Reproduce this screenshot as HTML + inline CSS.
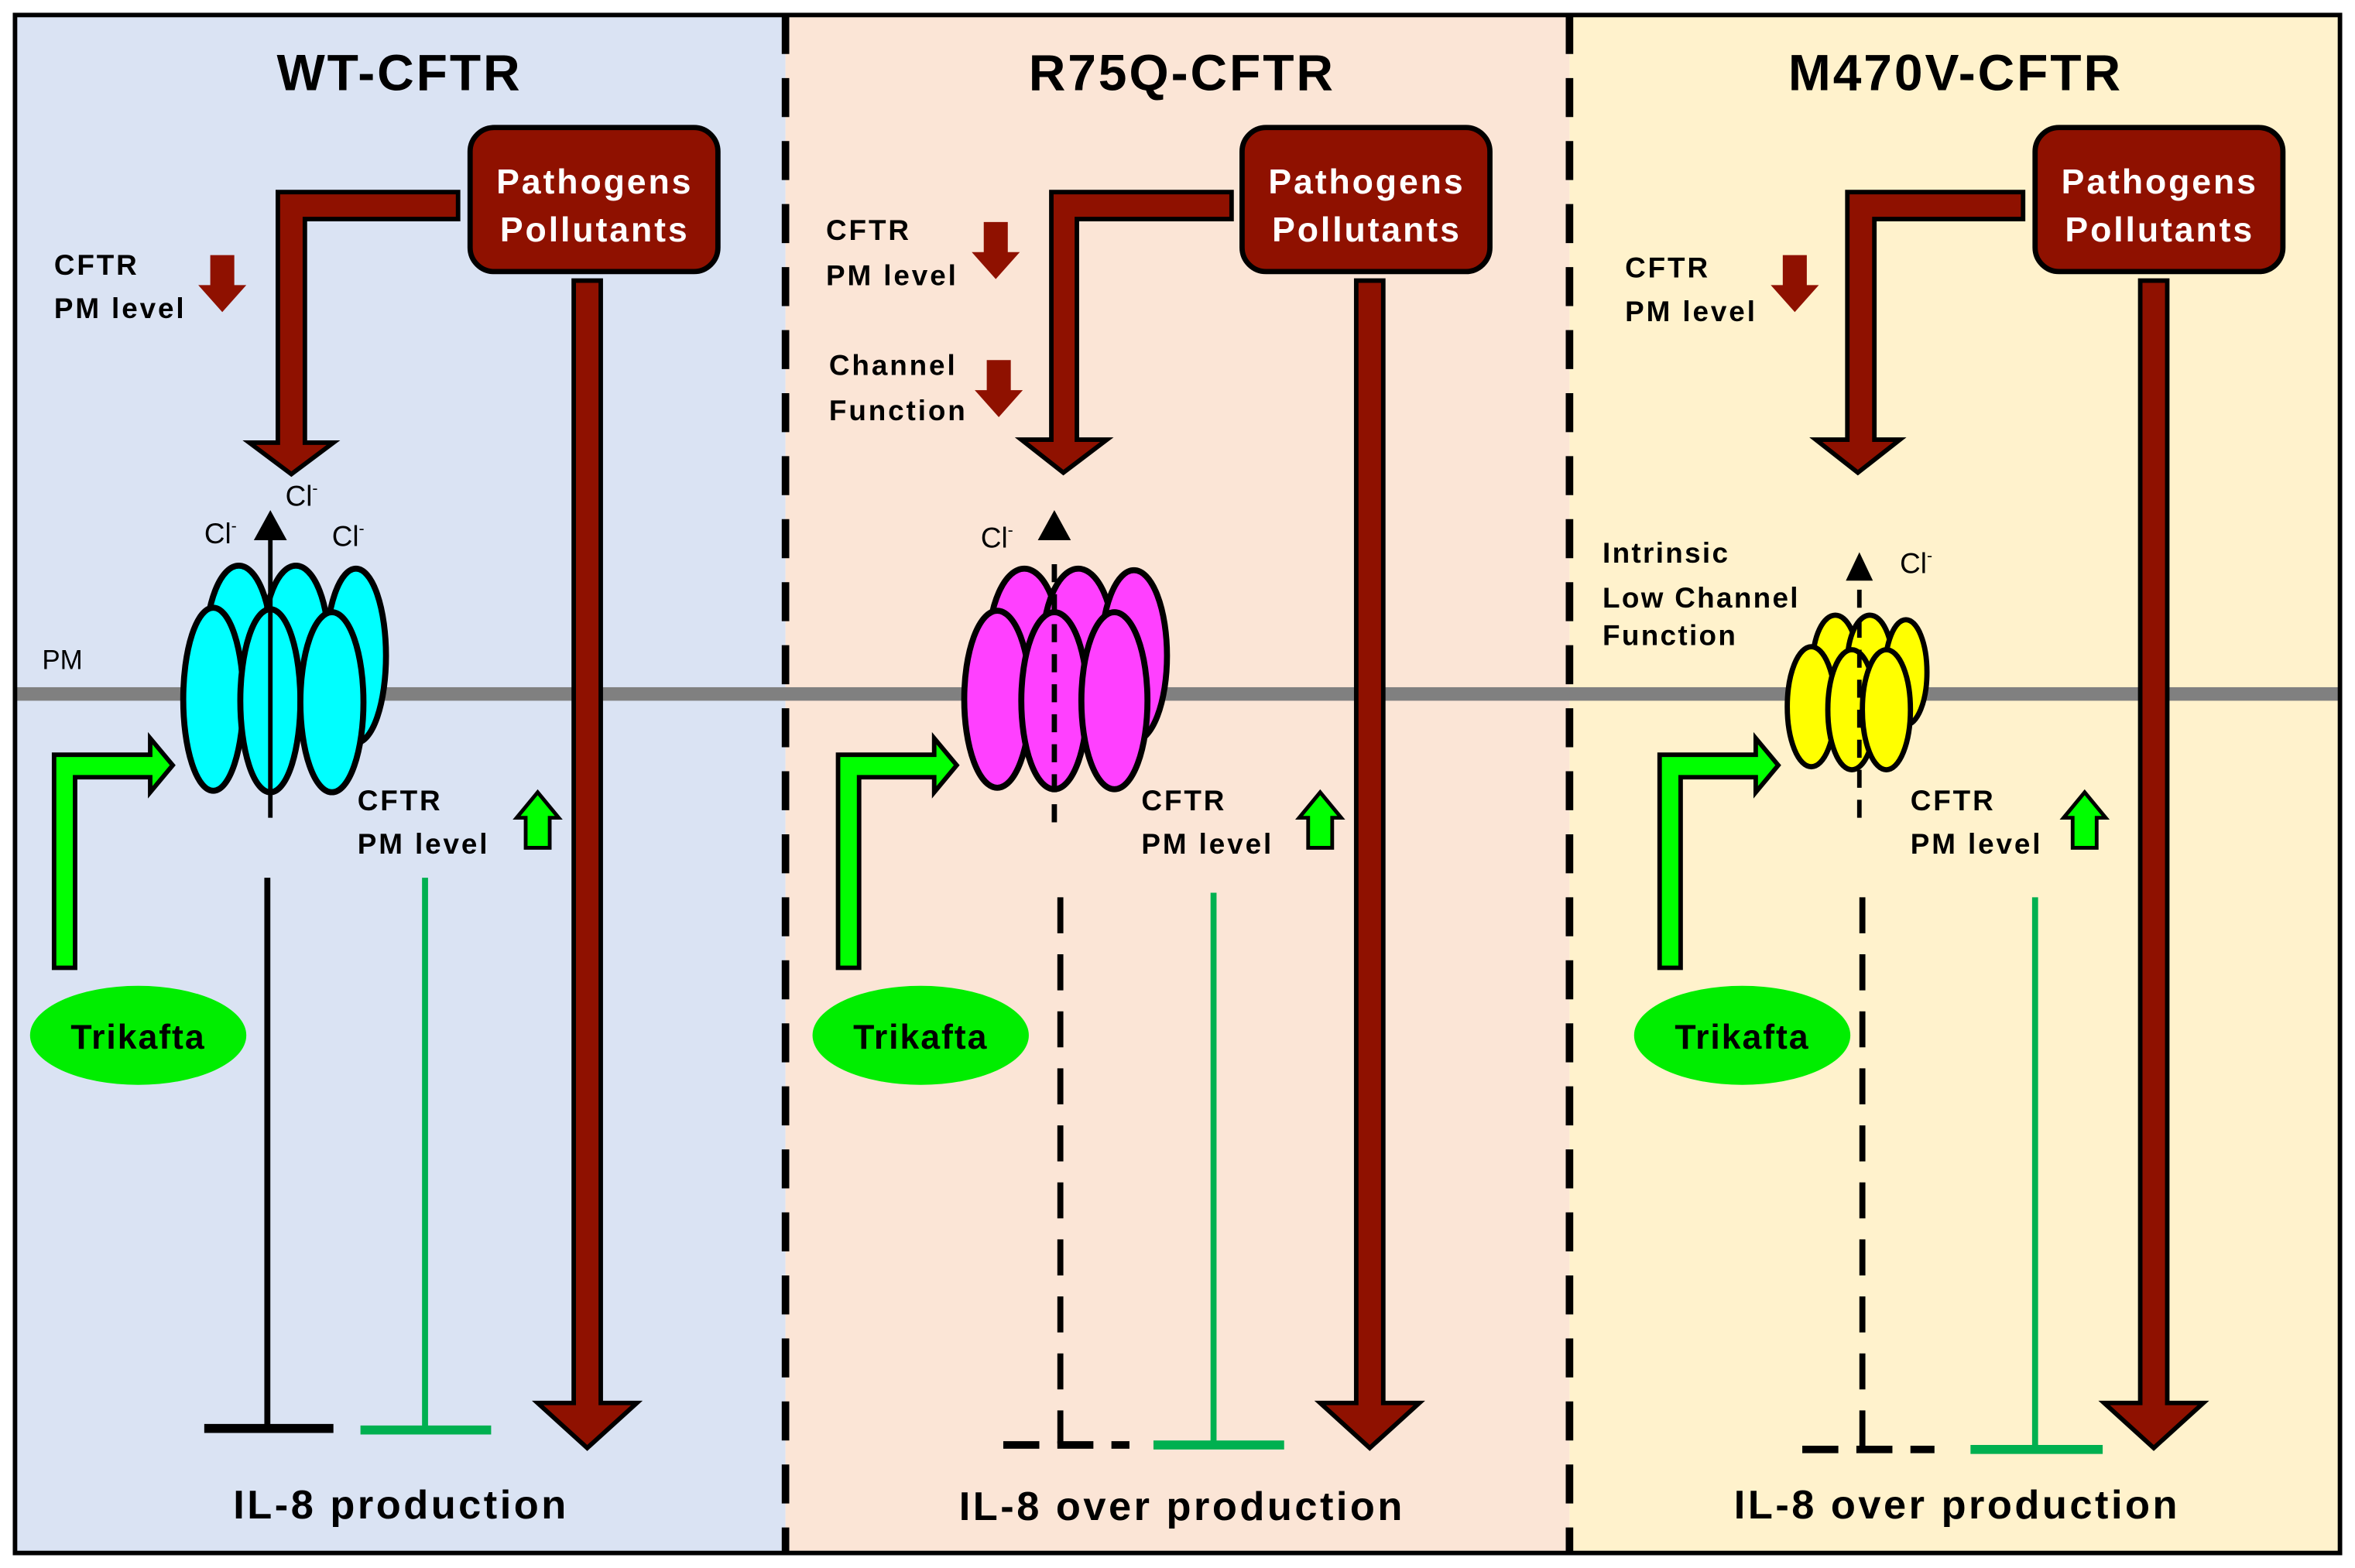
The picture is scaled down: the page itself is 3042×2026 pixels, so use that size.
<!DOCTYPE html>
<html><head><meta charset="utf-8"><style>
html,body{margin:0;padding:0;background:#fff;}
svg{display:block;}
text{font-family:"Liberation Sans",Arial,sans-serif;font-weight:bold;}
</style></head><body>
<svg width="3042" height="2026" viewBox="0 0 1568 1045" preserveAspectRatio="none" xmlns="http://www.w3.org/2000/svg">
<defs>
<g id="box">
<rect x="0" y="0" width="165" height="96" rx="16" fill="#8f1100" stroke="#000" stroke-width="3.5"/>
<text x="83" y="44" fill="#fff" font-size="23" text-anchor="middle" letter-spacing="1.5">Pathogens</text>
<text x="83" y="76" fill="#fff" font-size="23" text-anchor="middle" letter-spacing="1.5">Pollutants</text>
</g>
<polygon id="longarrow" points="-9,0 9,0 9,748 33,748 0,778 -33,748 -9,748" fill="#8f1100" stroke="#000" stroke-width="3"/>
<polygon id="smalldown" points="-8,0 8,0 8,20 16,20 0,38 -16,20 -8,20" fill="#8f1100"/>
<polygon id="greenup" points="-8,37 8,37 8,17 14,17 0,0 -14,17 -8,17" fill="#00ff00" stroke="#000" stroke-width="2.5"/>
<polygon id="greenbent" points="0,142 0,0 64,0 64,-11 79,7 64,25 64,15 14,15 14,142" fill="#00ff00" stroke="#000" stroke-width="3"/>
</defs>

<rect x="10" y="10" width="513" height="1025" fill="#dae3f3"/>
<rect x="523" y="10" width="522" height="1025" fill="#fbe5d6"/>
<rect x="1045" y="10" width="513" height="1025" fill="#fff2cc"/>

<rect x="10" y="458" width="1548" height="9" fill="#808080"/>

<rect x="10" y="10" width="1548" height="1025" fill="none" stroke="#000" stroke-width="3"/>
<line x1="523" y1="10" x2="523" y2="1035" stroke="#000" stroke-width="5" stroke-dasharray="26,16"/>
<line x1="1045" y1="10" x2="1045" y2="1035" stroke="#000" stroke-width="5" stroke-dasharray="26,16"/>

<text x="266" y="60" font-size="34" text-anchor="middle" letter-spacing="1.5">WT-CFTR</text>
<text x="787" y="60" font-size="34" text-anchor="middle" letter-spacing="1.5">R75Q-CFTR</text>
<text x="1302" y="60" font-size="34" text-anchor="middle" letter-spacing="1.5">M470V-CFTR</text>

<!-- Panel 1 -->
<use href="#box" x="313" y="85"/>
<polygon points="305,128 185,128 185,295 166,295 194,316 222,295 203,295 203,146 305,146" fill="#8f1100" stroke="#000" stroke-width="3"/>
<use href="#longarrow" x="391" y="187"/>
<text x="36" y="183" font-size="19" letter-spacing="1.5">CFTR</text>
<text x="36" y="212" font-size="19" letter-spacing="1.5">PM level</text>
<use href="#smalldown" x="148" y="170"/>
<text x="28" y="446" font-size="18" style="font-weight:normal">PM</text>
<g stroke="#000" stroke-width="4" fill="#00ffff">
<ellipse cx="159" cy="432" rx="22" ry="55"/>
<ellipse cx="197" cy="432" rx="22" ry="55"/>
<ellipse cx="237" cy="437" rx="20" ry="58"/>
<ellipse cx="142" cy="466" rx="20" ry="61"/>
<ellipse cx="180" cy="467" rx="20" ry="61"/>
<ellipse cx="221" cy="468" rx="21" ry="60"/>
</g>
<line x1="180" y1="545" x2="180" y2="356" stroke="#000" stroke-width="3"/>
<polygon points="180,340 169,360 191,360" fill="#000"/>
<text x="190" y="337" font-size="19" style="font-weight:normal">Cl<tspan font-size="11" dy="-8">-</tspan></text>
<text x="136" y="362" font-size="19" style="font-weight:normal">Cl<tspan font-size="11" dy="-8">-</tspan></text>
<text x="221" y="364" font-size="19" style="font-weight:normal">Cl<tspan font-size="11" dy="-8">-</tspan></text>
<use href="#greenbent" x="36" y="503"/>
<ellipse cx="92" cy="690" rx="72" ry="33" fill="#00ee00"/>
<text x="92" y="699" font-size="23" text-anchor="middle" letter-spacing="1">Trikafta</text>
<text x="238" y="540" font-size="19" letter-spacing="1.5">CFTR</text>
<text x="238" y="569" font-size="19" letter-spacing="1.5">PM level</text>
<use href="#greenup" x="358" y="528"/>
<line x1="178" y1="585" x2="178" y2="952" stroke="#000" stroke-width="4"/>
<line x1="136" y1="952" x2="222" y2="952" stroke="#000" stroke-width="6"/>
<line x1="283" y1="585" x2="283" y2="952" stroke="#00b050" stroke-width="4"/>
<line x1="240" y1="953" x2="327" y2="953" stroke="#00b050" stroke-width="6"/>
<text x="267" y="1012" font-size="27" text-anchor="middle" letter-spacing="1.8">IL-8 production</text>

<!-- Panel 2 -->
<use href="#box" x="827" y="85"/>
<polygon points="820,128 700,128 700,293 680,293 708,315 737,293 717,293 717,146 820,146" fill="#8f1100" stroke="#000" stroke-width="3"/>
<use href="#longarrow" x="912" y="187"/>
<text x="550" y="160" font-size="19" letter-spacing="1.5">CFTR</text>
<text x="550" y="190" font-size="19" letter-spacing="1.5">PM level</text>
<use href="#smalldown" x="663" y="148"/>
<text x="552" y="250" font-size="19" letter-spacing="1.5">Channel</text>
<text x="552" y="280" font-size="19" letter-spacing="1.5">Function</text>
<use href="#smalldown" x="665" y="240"/>
<g stroke="#000" stroke-width="4" fill="#ff40ff">
<ellipse cx="682" cy="433" rx="24" ry="54"/>
<ellipse cx="718" cy="433" rx="24" ry="54"/>
<ellipse cx="755" cy="437" rx="22" ry="57"/>
<ellipse cx="664" cy="466" rx="22" ry="59"/>
<ellipse cx="702" cy="467" rx="22" ry="59"/>
<ellipse cx="742" cy="467" rx="22" ry="59"/>
</g>
<line x1="702" y1="548" x2="702" y2="370" stroke="#000" stroke-width="3.5" stroke-dasharray="12,8"/>
<polygon points="702,340 691,360 713,360" fill="#000"/>
<text x="653" y="365" font-size="19" style="font-weight:normal">Cl<tspan font-size="11" dy="-8">-</tspan></text>
<use href="#greenbent" x="558" y="503"/>
<ellipse cx="613" cy="690" rx="72" ry="33" fill="#00ee00"/>
<text x="613" y="699" font-size="23" text-anchor="middle" letter-spacing="1">Trikafta</text>
<text x="760" y="540" font-size="19" letter-spacing="1.5">CFTR</text>
<text x="760" y="569" font-size="19" letter-spacing="1.5">PM level</text>
<use href="#greenup" x="879" y="528"/>
<line x1="706" y1="598" x2="706" y2="962" stroke="#000" stroke-width="4" stroke-dasharray="24,14"/>
<line x1="668" y1="963" x2="752" y2="963" stroke="#000" stroke-width="5" stroke-dasharray="24,12"/>
<line x1="808" y1="595" x2="808" y2="962" stroke="#00b050" stroke-width="4"/>
<line x1="768" y1="963" x2="855" y2="963" stroke="#00b050" stroke-width="6"/>
<text x="787" y="1013" font-size="27" text-anchor="middle" letter-spacing="1.8">IL-8 over production</text>

<!-- Panel 3 -->
<use href="#box" x="1355" y="85"/>
<polygon points="1347,128 1230,128 1230,293 1209,293 1237,315 1265,293 1248,293 1248,146 1347,146" fill="#8f1100" stroke="#000" stroke-width="3"/>
<use href="#longarrow" x="1434" y="187"/>
<text x="1082" y="185" font-size="19" letter-spacing="1.5">CFTR</text>
<text x="1082" y="214" font-size="19" letter-spacing="1.5">PM level</text>
<use href="#smalldown" x="1195" y="170"/>
<text x="1067" y="375" font-size="19" letter-spacing="1.2">Intrinsic</text>
<text x="1067" y="405" font-size="19" letter-spacing="1.2">Low Channel</text>
<text x="1067" y="430" font-size="19" letter-spacing="1.2">Function</text>
<g stroke="#000" stroke-width="3.5" fill="#ffff00">
<ellipse cx="1222" cy="442" rx="15" ry="32"/>
<ellipse cx="1245" cy="442" rx="15" ry="32"/>
<ellipse cx="1269" cy="448" rx="14" ry="35"/>
<ellipse cx="1206" cy="471" rx="16" ry="40"/>
<ellipse cx="1233" cy="473" rx="16" ry="40"/>
<ellipse cx="1256" cy="473" rx="16" ry="40"/>
</g>
<line x1="1238" y1="545" x2="1238" y2="392" stroke="#000" stroke-width="3" stroke-dasharray="12,8"/>
<polygon points="1238,368 1229,387 1247,387" fill="#000"/>
<text x="1265" y="382" font-size="19" style="font-weight:normal">Cl<tspan font-size="11" dy="-8">-</tspan></text>
<use href="#greenbent" x="1105" y="503"/>
<ellipse cx="1160" cy="690" rx="72" ry="33" fill="#00ee00"/>
<text x="1160" y="699" font-size="23" text-anchor="middle" letter-spacing="1">Trikafta</text>
<text x="1272" y="540" font-size="19" letter-spacing="1.5">CFTR</text>
<text x="1272" y="569" font-size="19" letter-spacing="1.5">PM level</text>
<use href="#greenup" x="1388" y="528"/>
<line x1="1240" y1="598" x2="1240" y2="965" stroke="#000" stroke-width="4" stroke-dasharray="24,14"/>
<line x1="1200" y1="966" x2="1288" y2="966" stroke="#000" stroke-width="5" stroke-dasharray="24,12"/>
<line x1="1355" y1="598" x2="1355" y2="965" stroke="#00b050" stroke-width="4"/>
<line x1="1312" y1="966" x2="1400" y2="966" stroke="#00b050" stroke-width="6"/>
<text x="1303" y="1012" font-size="27" text-anchor="middle" letter-spacing="1.8">IL-8 over production</text>
</svg>
</body></html>
